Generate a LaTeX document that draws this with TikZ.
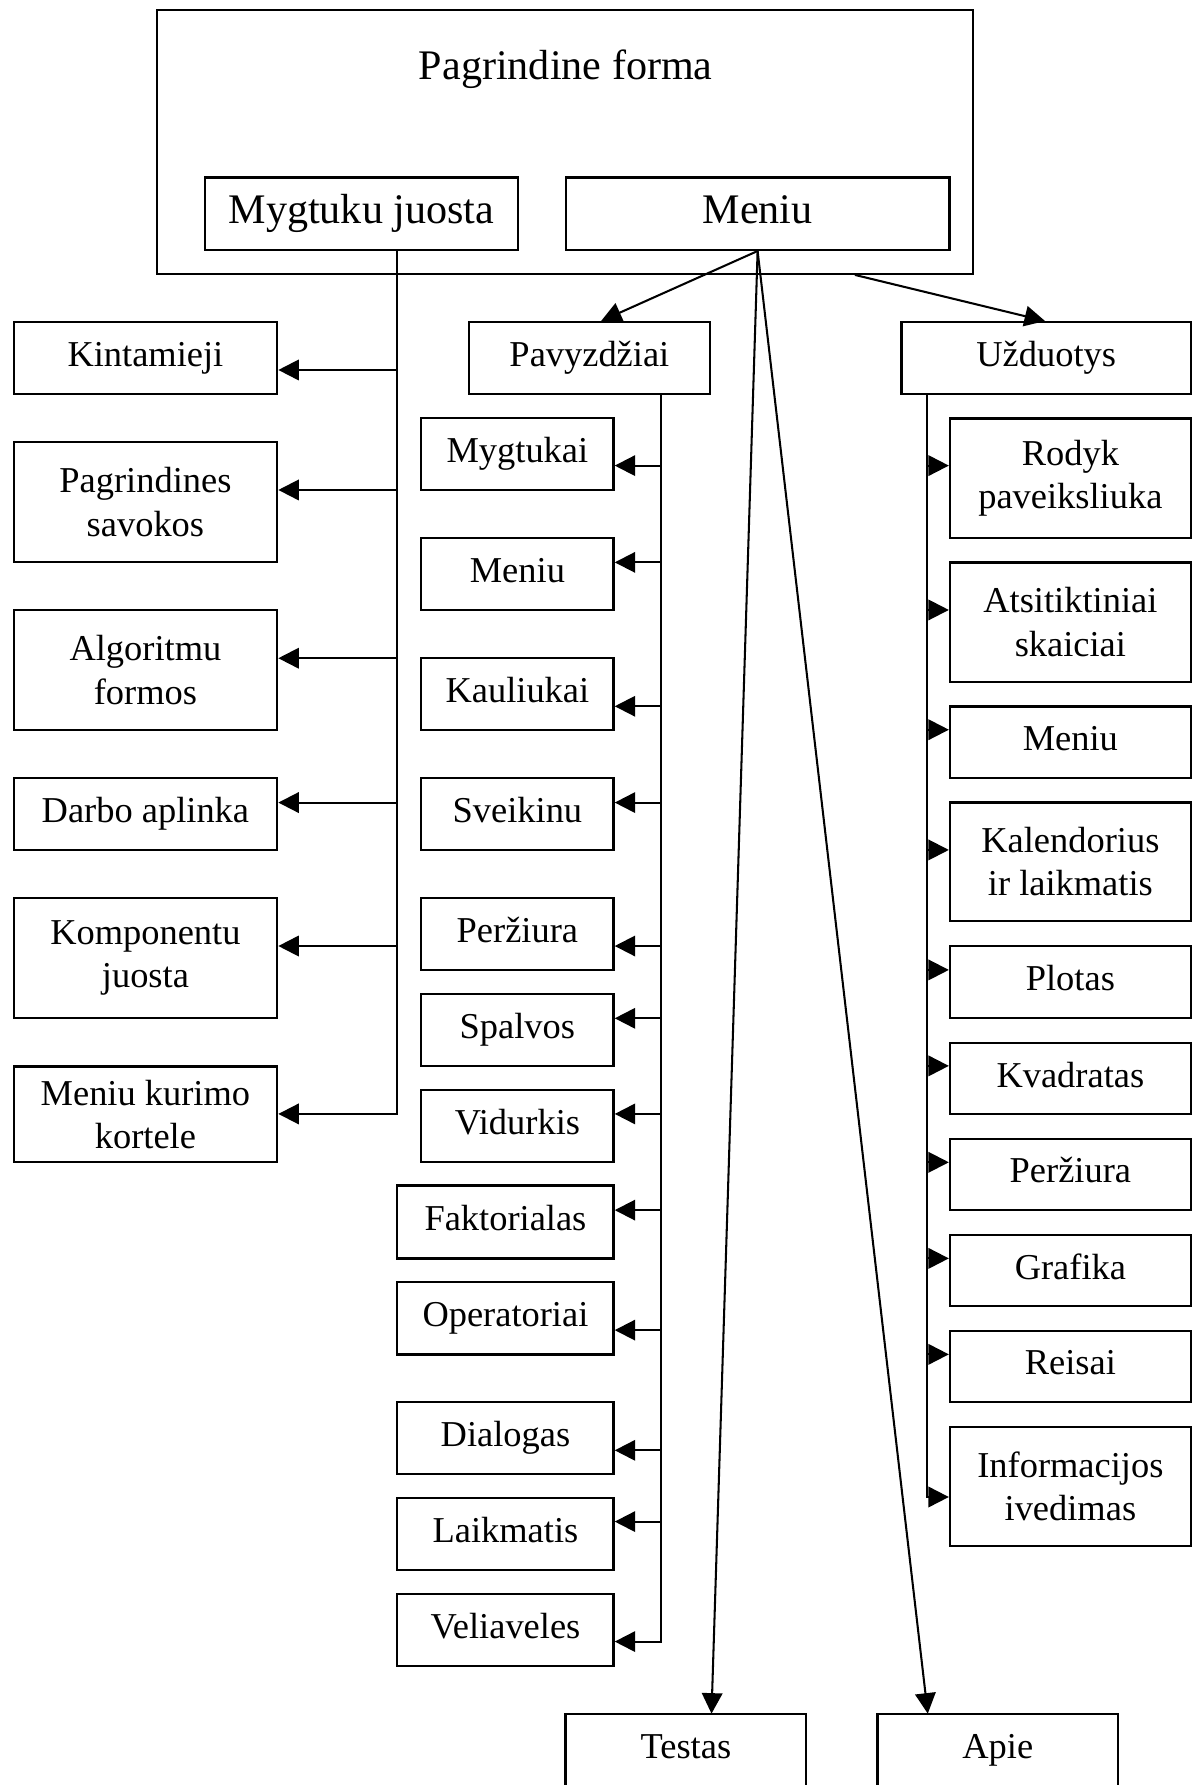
\documentclass[tikz,border=0pt]{standalone}
\usepackage{fontspec}
\setmainfont{Liberation Serif}
\usetikzlibrary{arrows.meta}
\tikzset{
  bx/.style={draw, line width=2pt, inner sep=0pt, font=\fontsize{32}{38}\selectfont, text height=22pt, text depth=7pt},
  bxm/.style={draw, line width=2pt, inner sep=0pt, align=center, font=\fontsize{32}{38}\selectfont},
  bxt/.style={draw, line width=2pt, inner sep=0pt, font=\fontsize{37}{44}\selectfont, text height=25pt, text depth=8pt},
  bxo/.style={inner sep=0pt, font=\fontsize{32}{38}\selectfont, text height=22pt, text depth=7pt},
  arr/.style={line width=1.8pt, -{Triangle[length=18pt,width=18pt]}}
}
\begin{document}
\begin{tikzpicture}[x=1pt,y=-1pt]
\useasboundingbox (0,0) rectangle (1054,1568);
\fill[white] (0,0) rectangle (1054,1568);

% top
\node[draw, line width=2pt, minimum width=717pt, minimum height=231.7pt, inner sep=0pt] (main) at (496.5,124.65) {};
\node[anchor=base, font=\fontsize{37}{44}\selectfont, inner sep=0pt] (title) at (497,69.4) {Pagrindine forma};
\node[bxt, minimum width=275pt, minimum height=63.5pt] (myg) at (317.5,187.75) {Mygtuku juosta};
\node[bxt, minimum width=337pt, minimum height=63.5pt] (meniu) at (665.5,187.75) {Meniu};

% left column
\node[bx,  minimum width=231.5pt, minimum height=63pt]    (kint)  at (127.75,314.5)  {Kintamieji};
\node[bxm, minimum width=231.5pt, minimum height=105.1pt] (pags)  at (127.75,441.05) {Pagrindines\\savokos};
\node[bxm, minimum width=231.5pt, minimum height=105.4pt] (alg)   at (127.75,588.5)  {Algoritmu\\formos};
\node[bx,  minimum width=231.5pt, minimum height=63pt]    (darbo) at (127.75,715.1)  {Darbo aplinka};
\node[bxm, minimum width=231.5pt, minimum height=105.5pt] (komp)  at (127.75,841.75) {Komponentu\\juosta};
\node[bxm, minimum width=231.5pt, minimum height=84pt]    (menk)  at (127.75,978.9)  {Meniu kurimo\\kortele};

% middle column
\node[bx, minimum width=211.5pt, minimum height=63pt]   (pav)   at (517.75,314.5)  {Pavyzdžiai};
\node[bx, minimum width=169pt, minimum height=63.7pt]   (mygt)  at (454.5,398.85)  {Mygtukai};
\node[bx, minimum width=169pt, minimum height=63.4pt]   (men2)  at (454.5,504.3)   {Meniu};
\node[bx, minimum width=169pt, minimum height=63pt]     (kaul)  at (454.5,609.7)   {Kauliukai};
\node[bx, minimum width=169pt, minimum height=63pt]     (sveik) at (454.5,715.1)   {Sveikinu};
\node[bx, minimum width=169pt, minimum height=63.3pt]   (perz)  at (454.5,820.65)  {Peržiura};
\node[bx, minimum width=169pt, minimum height=63.2pt]   (spalv) at (454.5,905)     {Spalvos};
\node[bx, minimum width=169pt, minimum height=63.2pt]   (vid)   at (454.5,989.3)   {Vidurkis};
\node[bx, minimum width=190pt, minimum height=64pt]     (fakt)  at (444,1073.4)    {Faktorialas};
\node[bx, minimum width=190pt, minimum height=63.7pt]   (oper)  at (444,1157.85)   {Operatoriai};
\node[bx, minimum width=190pt, minimum height=63.4pt]   (dial)  at (444,1263.3)    {Dialogas};
\node[bx, minimum width=190pt, minimum height=63.3pt]   (laik)  at (444,1347.55)   {Laikmatis};
\node[bx, minimum width=190pt, minimum height=63.4pt]   (vel)   at (444,1431.8)    {Veliaveles};

% right column
\node[bx,  minimum width=254pt,   minimum height=63pt]    (uzd)   at (919,314.5)     {Užduotys};
\node[bxm, minimum width=211.5pt, minimum height=104.9pt] (rod)   at (940.25,420.15) {Rodyk\\paveiksliuka};
\node[bxm, minimum width=211.5pt, minimum height=105pt]   (ats)   at (940.25,546.5)  {Atsitiktiniai\\skaiciai};
\node[bx,  minimum width=211.5pt, minimum height=62.8pt]  (men3)  at (940.25,651.9)  {Meniu};
\node[bxm, minimum width=211.5pt, minimum height=104.4pt] (kal)   at (940.25,757.1)  {Kalendorius\\ir laikmatis};
\node[bx,  minimum width=211.5pt, minimum height=63.5pt]  (plot)  at (940.25,862.65) {Plotas};
\node[bx,  minimum width=211.5pt, minimum height=62.7pt]  (kvad)  at (940.25,947.35) {Kvadratas};
\node[bx,  minimum width=211.5pt, minimum height=62.7pt]  (perz2) at (940.25,1031.65){Peržiura};
\node[bx,  minimum width=211.5pt, minimum height=62.8pt]  (graf)  at (940.25,1116)   {Grafika};
\node[bx,  minimum width=211.5pt, minimum height=62.7pt]  (reis)  at (940.25,1200.25){Reisai};
\node[bxm, minimum width=211.5pt, minimum height=104.7pt] (info)  at (940.25,1305.55){Informacijos\\ivedimas};

% bottom (open at the page edge)
\node[bxo, minimum width=211pt, minimum height=63pt] (test) at (602.5,1537) {Testas};
\node[bxo, minimum width=211pt, minimum height=63pt] (apie) at (876.5,1537) {Apie};
\draw[line width=2pt] ([yshift=-20pt]test.south west) -- (test.north west) -- (test.north east) -- ([yshift=-20pt]test.south east);
\draw[line width=2pt] ([yshift=-20pt]apie.south west) -- (apie.north west) -- (apie.north east) -- ([yshift=-20pt]apie.south east);

% left tree
\draw[arr] (myg.south -| 349,0) -- (349,978.5) -- (menk.east |- 0,978.5);
\draw[arr] (349,325)   -- (kint.east  |- 0,325);
\draw[arr] (349,430.4) -- (pags.east  |- 0,430.4);
\draw[arr] (349,578.2) -- (alg.east   |- 0,578.2);
\draw[arr] (349,705)   -- (darbo.east |- 0,705);
\draw[arr] (349,831)   -- (komp.east  |- 0,831);

% middle tree
\draw[arr] (pav.south -| 581,0) -- (581,1442) -- (vel.east |- 0,1442);
\draw[arr] (581,409)    -- (mygt.east  |- 0,409);
\draw[arr] (581,494)    -- (men2.east  |- 0,494);
\draw[arr] (581,620.4)  -- (kaul.east  |- 0,620.4);
\draw[arr] (581,705)    -- (sveik.east |- 0,705);
\draw[arr] (581,831)    -- (perz.east  |- 0,831);
\draw[arr] (581,894.5)  -- (spalv.east |- 0,894.5);
\draw[arr] (581,978.5)  -- (vid.east   |- 0,978.5);
\draw[arr] (581,1063)   -- (fakt.east  |- 0,1063);
\draw[arr] (581,1168.4) -- (oper.east  |- 0,1168.4);
\draw[arr] (581,1274)   -- (dial.east  |- 0,1274);
\draw[arr] (581,1336.6) -- (laik.east  |- 0,1336.6);

% right tree
\draw[arr] (uzd.south -| 814,0) -- (814,1315) -- (info.west |- 0,1315);
\draw[arr] (814,409)    -- (rod.west   |- 0,409);
\draw[arr] (814,535.8)  -- (ats.west   |- 0,535.8);
\draw[arr] (814,641)    -- (men3.west  |- 0,641);
\draw[arr] (814,746.6)  -- (kal.west   |- 0,746.6);
\draw[arr] (814,852)    -- (plot.west  |- 0,852);
\draw[arr] (814,936.3)  -- (kvad.west  |- 0,936.3);
\draw[arr] (814,1021)   -- (perz2.west |- 0,1021);
\draw[arr] (814,1105.4) -- (graf.west  |- 0,1105.4);
\draw[arr] (814,1189.7) -- (reis.west  |- 0,1189.7);

% from Meniu / main form
\draw[arr] (meniu.south) -- (pav.north -| 528,0);
\draw[arr] (main.south -| 751,0) -- (uzd.north -| 918,0);
\draw[arr] (meniu.south) -- (test.north -| 625,0);
\draw[arr] (meniu.south) -- (apie.north -| 815,0);
\end{tikzpicture}
\end{document}
